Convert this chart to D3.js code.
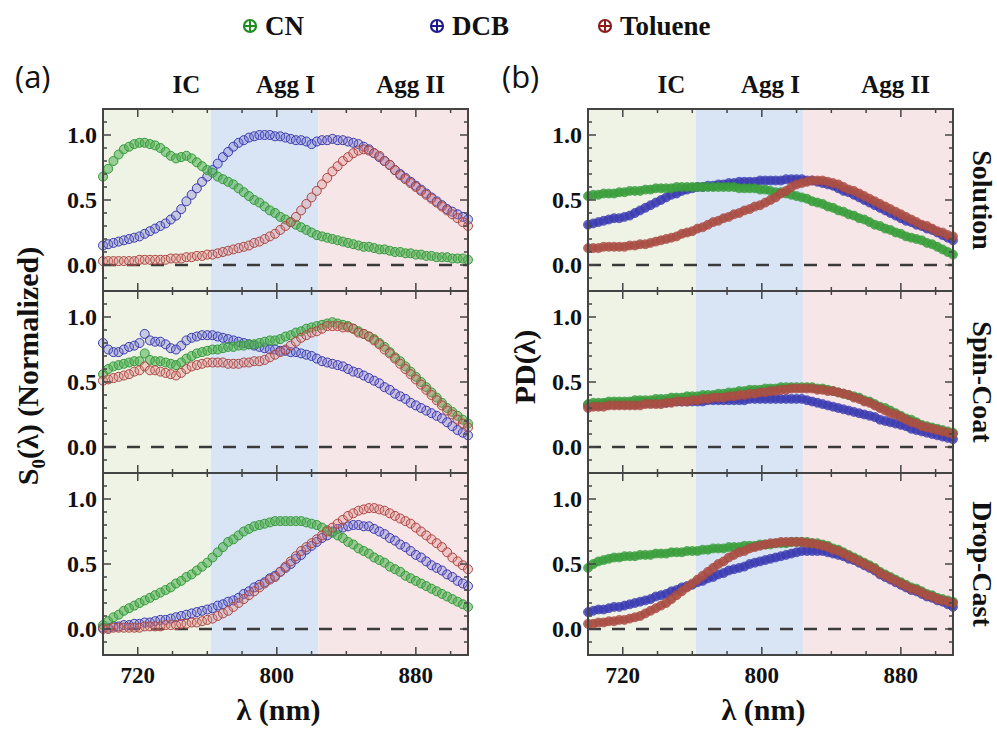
<!DOCTYPE html>
<html>
<head>
<meta charset="utf-8">
<script src="https://cdn.jsdelivr.net/npm/d3@7"></script>
<style>
  body { margin: 0; background: #fff; }
</style>
</head>
<body>
<div id="chart-area"></div>
<script>
// SVG size
var width = 997,
    height = 734;

var serif = "'Liberation Serif', 'Times New Roman', serif";

// wavelength grid (nm)
var wavelengths = d3.range(700, 911, 3);

var solvents = ["CN", "DCB", "Toluene"];
var rowNames = ["Solution", "Spin-Coat", "Drop-Cast"];
var regionNames = ["IC", "Agg I", "Agg II"];
var regionEdges = [700, 762, 824, 910];
var regionLabelAt = [748, 805, 877];
var xMajorTicks = [720, 800, 880];
var xMinorTicks = [740, 760, 780, 820, 840, 860, 900];
var yMajorTicks = [0, 0.5, 1.0];
var yMinorTicks = [-0.1, 0.1, 0.2, 0.3, 0.4, 0.6, 0.7, 0.8, 0.9, 1.1];

// (a) S0 normalized
var s0SolutionCN = [0.68,0.74,0.80,0.85,0.89,0.91,0.93,0.94,0.94,0.93,
  0.92,0.90,0.87,0.84,0.82,0.83,0.84,0.82,0.79,0.76,
  0.73,0.71,0.68,0.66,0.64,0.62,0.59,0.56,0.53,0.50,
  0.48,0.45,0.42,0.40,0.37,0.35,0.33,0.31,0.29,0.27,
  0.25,0.23,0.22,0.21,0.20,0.19,0.18,0.17,0.16,0.15,
  0.14,0.14,0.13,0.12,0.12,0.11,0.10,0.10,0.09,0.09,
  0.08,0.08,0.07,0.07,0.06,0.06,0.06,0.05,0.05,0.05,
  0.04];
var s0SolutionDCB = [0.15,0.16,0.17,0.18,0.19,0.20,0.21,0.22,0.24,0.26,
  0.28,0.30,0.32,0.35,0.38,0.43,0.49,0.54,0.59,0.64,
  0.68,0.73,0.78,0.83,0.87,0.91,0.94,0.96,0.98,0.99,
  1.00,1.00,1.00,0.99,0.99,0.98,0.97,0.96,0.96,0.95,
  0.93,0.95,0.96,0.96,0.97,0.96,0.96,0.95,0.94,0.93,
  0.91,0.89,0.86,0.83,0.80,0.77,0.73,0.70,0.67,0.64,
  0.61,0.58,0.55,0.52,0.49,0.46,0.43,0.41,0.39,0.37,
  0.35];
var s0SolutionTol = [0.03,0.03,0.03,0.03,0.03,0.03,0.03,0.04,0.04,0.04,
  0.04,0.04,0.04,0.05,0.05,0.05,0.06,0.06,0.07,0.07,
  0.08,0.08,0.09,0.10,0.11,0.12,0.13,0.14,0.15,0.17,
  0.18,0.20,0.22,0.24,0.27,0.30,0.33,0.37,0.42,0.47,
  0.52,0.57,0.62,0.67,0.72,0.76,0.80,0.83,0.86,0.88,
  0.89,0.88,0.86,0.84,0.80,0.77,0.73,0.69,0.66,0.63,
  0.60,0.57,0.54,0.51,0.48,0.45,0.42,0.39,0.36,0.33,
  0.30];
var s0SpinCN = [0.56,0.60,0.62,0.63,0.64,0.65,0.66,0.66,0.72,0.67,
  0.66,0.66,0.65,0.64,0.63,0.65,0.68,0.70,0.72,0.73,
  0.74,0.75,0.75,0.76,0.77,0.77,0.78,0.78,0.79,0.79,
  0.80,0.81,0.82,0.82,0.83,0.85,0.86,0.88,0.89,0.91,
  0.92,0.93,0.94,0.95,0.96,0.95,0.94,0.93,0.91,0.89,
  0.87,0.85,0.83,0.80,0.77,0.73,0.69,0.66,0.62,0.58,
  0.54,0.50,0.46,0.42,0.38,0.34,0.30,0.27,0.24,0.21,
  0.18];
var s0SpinDCB = [0.80,0.75,0.73,0.73,0.75,0.77,0.78,0.80,0.87,0.82,
  0.81,0.81,0.79,0.76,0.75,0.78,0.82,0.84,0.85,0.86,
  0.86,0.86,0.85,0.84,0.83,0.82,0.81,0.80,0.79,0.78,
  0.77,0.76,0.75,0.75,0.74,0.74,0.73,0.73,0.72,0.71,
  0.70,0.68,0.66,0.65,0.64,0.63,0.62,0.60,0.58,0.57,
  0.55,0.53,0.51,0.49,0.46,0.44,0.41,0.39,0.37,0.34,
  0.32,0.30,0.28,0.26,0.24,0.22,0.19,0.16,0.13,0.11,
  0.09];
var s0SpinTol = [0.51,0.52,0.53,0.54,0.55,0.56,0.58,0.59,0.62,0.59,
  0.59,0.58,0.57,0.56,0.55,0.57,0.60,0.62,0.63,0.64,
  0.65,0.65,0.65,0.65,0.64,0.64,0.64,0.65,0.65,0.66,
  0.66,0.67,0.69,0.71,0.73,0.75,0.78,0.81,0.84,0.86,
  0.88,0.89,0.91,0.93,0.93,0.93,0.92,0.92,0.91,0.88,
  0.87,0.85,0.82,0.79,0.75,0.72,0.68,0.64,0.60,0.56,
  0.52,0.48,0.44,0.40,0.36,0.32,0.28,0.25,0.21,0.18,
  0.15];
var s0DropCN = [0.03,0.06,0.09,0.11,0.14,0.16,0.18,0.20,0.22,0.24,
  0.26,0.28,0.30,0.32,0.35,0.37,0.40,0.42,0.45,0.48,
  0.51,0.55,0.59,0.63,0.67,0.69,0.72,0.75,0.77,0.79,
  0.80,0.81,0.82,0.83,0.83,0.83,0.83,0.83,0.83,0.82,
  0.81,0.80,0.78,0.76,0.74,0.72,0.70,0.67,0.65,0.62,
  0.60,0.58,0.55,0.53,0.51,0.48,0.46,0.44,0.41,0.39,
  0.37,0.35,0.33,0.31,0.29,0.27,0.25,0.23,0.21,0.19,
  0.17];
var s0DropDCB = [0.01,0.01,0.02,0.02,0.03,0.03,0.04,0.04,0.05,0.05,
  0.06,0.07,0.07,0.08,0.09,0.10,0.11,0.12,0.13,0.14,
  0.15,0.16,0.18,0.19,0.21,0.22,0.24,0.27,0.29,0.32,
  0.34,0.36,0.39,0.41,0.44,0.47,0.50,0.54,0.57,0.61,
  0.64,0.67,0.70,0.72,0.75,0.77,0.78,0.79,0.80,0.80,
  0.79,0.79,0.77,0.75,0.73,0.70,0.68,0.65,0.63,0.60,
  0.57,0.55,0.52,0.49,0.47,0.45,0.42,0.40,0.37,0.35,
  0.33];
var s0DropTol = [0.00,0.00,0.01,0.01,0.01,0.01,0.01,0.01,0.02,0.02,
  0.02,0.02,0.03,0.03,0.03,0.04,0.04,0.05,0.05,0.06,
  0.07,0.08,0.10,0.12,0.14,0.17,0.20,0.23,0.26,0.29,
  0.32,0.35,0.38,0.40,0.44,0.48,0.52,0.56,0.60,0.63,
  0.66,0.69,0.72,0.75,0.78,0.81,0.84,0.87,0.89,0.91,
  0.92,0.93,0.93,0.92,0.91,0.89,0.87,0.85,0.83,0.81,
  0.78,0.75,0.72,0.69,0.66,0.63,0.59,0.55,0.52,0.49,
  0.46];

// (b) PD
var pdSolutionCN = [0.53,0.54,0.54,0.55,0.55,0.55,0.56,0.56,0.57,0.57,
  0.57,0.58,0.58,0.59,0.59,0.59,0.59,0.60,0.60,0.60,
  0.60,0.60,0.60,0.60,0.60,0.60,0.60,0.60,0.60,0.59,
  0.59,0.59,0.59,0.58,0.58,0.57,0.56,0.56,0.55,0.54,
  0.53,0.52,0.51,0.49,0.48,0.47,0.45,0.44,0.42,0.41,
  0.39,0.38,0.36,0.35,0.33,0.31,0.30,0.28,0.27,0.25,
  0.24,0.22,0.21,0.20,0.19,0.17,0.16,0.14,0.12,0.10,
  0.08];
var pdSolutionDCB = [0.31,0.32,0.33,0.34,0.35,0.36,0.36,0.37,0.38,0.40,
  0.42,0.44,0.46,0.48,0.50,0.52,0.54,0.55,0.57,0.58,
  0.59,0.60,0.60,0.61,0.61,0.62,0.62,0.63,0.63,0.64,
  0.64,0.64,0.64,0.65,0.65,0.65,0.65,0.65,0.66,0.66,
  0.66,0.66,0.65,0.65,0.64,0.63,0.62,0.61,0.59,0.57,
  0.56,0.54,0.52,0.50,0.48,0.46,0.44,0.42,0.40,0.38,
  0.36,0.34,0.33,0.31,0.30,0.28,0.27,0.25,0.23,0.21,
  0.19];
var pdSolutionTol = [0.13,0.13,0.13,0.14,0.14,0.14,0.14,0.14,0.15,0.15,
  0.16,0.16,0.17,0.18,0.19,0.20,0.21,0.22,0.24,0.25,
  0.26,0.28,0.29,0.31,0.33,0.34,0.36,0.37,0.39,0.40,
  0.42,0.43,0.45,0.46,0.48,0.50,0.52,0.55,0.57,0.60,
  0.62,0.63,0.64,0.65,0.65,0.65,0.64,0.63,0.62,0.60,
  0.58,0.57,0.55,0.53,0.51,0.49,0.47,0.45,0.43,0.41,
  0.39,0.37,0.35,0.33,0.31,0.30,0.28,0.26,0.25,0.23,
  0.22];
var pdSpinCN = [0.33,0.34,0.34,0.34,0.35,0.35,0.35,0.35,0.35,0.36,
  0.36,0.36,0.36,0.37,0.37,0.37,0.38,0.38,0.38,0.39,
  0.39,0.39,0.40,0.40,0.40,0.41,0.41,0.42,0.42,0.43,
  0.43,0.44,0.44,0.44,0.45,0.45,0.45,0.46,0.46,0.46,
  0.46,0.46,0.46,0.46,0.45,0.45,0.44,0.43,0.42,0.41,
  0.40,0.39,0.38,0.36,0.35,0.33,0.31,0.30,0.28,0.26,
  0.24,0.22,0.21,0.19,0.17,0.16,0.15,0.14,0.13,0.12,
  0.11];
var pdSpinDCB = [0.32,0.32,0.32,0.33,0.33,0.33,0.33,0.33,0.33,0.33,
  0.34,0.34,0.34,0.34,0.34,0.34,0.35,0.35,0.35,0.35,
  0.35,0.35,0.35,0.36,0.36,0.36,0.36,0.36,0.36,0.36,
  0.36,0.37,0.37,0.37,0.37,0.37,0.37,0.37,0.37,0.37,
  0.37,0.37,0.36,0.35,0.34,0.33,0.32,0.31,0.30,0.29,
  0.28,0.27,0.26,0.25,0.24,0.23,0.21,0.20,0.19,0.18,
  0.17,0.16,0.14,0.13,0.12,0.11,0.10,0.09,0.08,0.07,
  0.06];
var pdSpinTol = [0.30,0.31,0.31,0.31,0.32,0.32,0.32,0.32,0.32,0.32,
  0.32,0.33,0.33,0.33,0.33,0.34,0.34,0.35,0.35,0.35,
  0.36,0.36,0.37,0.37,0.38,0.38,0.38,0.39,0.39,0.40,
  0.40,0.41,0.41,0.42,0.42,0.43,0.43,0.44,0.44,0.45,
  0.45,0.45,0.45,0.45,0.44,0.44,0.43,0.43,0.42,0.41,
  0.40,0.38,0.37,0.35,0.34,0.32,0.30,0.28,0.26,0.25,
  0.23,0.21,0.19,0.18,0.16,0.15,0.14,0.13,0.12,0.11,
  0.10];
var pdDropCN = [0.47,0.50,0.52,0.53,0.54,0.55,0.55,0.56,0.56,0.56,
  0.57,0.57,0.57,0.58,0.58,0.58,0.59,0.59,0.59,0.60,
  0.60,0.60,0.61,0.61,0.62,0.62,0.62,0.63,0.63,0.63,
  0.64,0.64,0.64,0.65,0.65,0.65,0.66,0.66,0.66,0.67,
  0.67,0.67,0.67,0.66,0.66,0.65,0.64,0.62,0.61,0.59,
  0.57,0.55,0.53,0.51,0.49,0.47,0.44,0.42,0.40,0.38,
  0.36,0.34,0.32,0.31,0.29,0.27,0.26,0.24,0.23,0.22,
  0.21];
var pdDropDCB = [0.13,0.14,0.15,0.15,0.16,0.17,0.17,0.18,0.19,0.20,
  0.21,0.22,0.23,0.25,0.26,0.27,0.29,0.30,0.32,0.33,
  0.34,0.36,0.37,0.39,0.40,0.42,0.43,0.45,0.46,0.47,
  0.48,0.50,0.51,0.52,0.53,0.54,0.55,0.56,0.57,0.58,
  0.59,0.60,0.60,0.60,0.60,0.60,0.59,0.58,0.57,0.56,
  0.54,0.53,0.51,0.49,0.47,0.45,0.42,0.40,0.38,0.36,
  0.34,0.32,0.30,0.29,0.27,0.25,0.24,0.22,0.21,0.19,
  0.17];
var pdDropTol = [0.04,0.04,0.05,0.05,0.06,0.06,0.07,0.07,0.08,0.09,
  0.10,0.12,0.14,0.16,0.18,0.20,0.23,0.26,0.29,0.32,
  0.35,0.38,0.41,0.44,0.47,0.50,0.52,0.55,0.57,0.59,
  0.60,0.62,0.63,0.64,0.65,0.66,0.66,0.67,0.67,0.67,
  0.67,0.67,0.66,0.66,0.65,0.64,0.63,0.61,0.60,0.58,
  0.56,0.54,0.52,0.50,0.48,0.46,0.43,0.41,0.39,0.37,
  0.35,0.33,0.31,0.30,0.28,0.26,0.25,0.23,0.22,0.21,
  0.20];

// panels[panel][row] = [CN, DCB, Toluene]
var panelData = [
  [[s0SolutionCN, s0SolutionDCB, s0SolutionTol],
   [s0SpinCN, s0SpinDCB, s0SpinTol],
   [s0DropCN, s0DropDCB, s0DropTol]],
  [[pdSolutionCN, pdSolutionDCB, pdSolutionTol],
   [pdSpinCN, pdSpinDCB, pdSpinTol],
   [pdDropCN, pdDropDCB, pdDropTol]]
];

var legendColors = ["#1e8c1e", "#1c1c8c", "#8c1c1c"];
var strokeColors = ["#34993a", "#3a3aae", "#ac4640"];
var fillColors = ["rgba(80,175,80,0.55)", "rgba(105,105,210,0.3)", "rgba(220,130,130,0.3)"];
var bandColors = ["rgba(60,160,60,0.75)", "rgba(60,60,180,0.7)", "rgba(170,80,70,0.75)"];
var regionColors = ["#eef3e6", "#d9e5f5", "#f7e6e8"];
var drawOrder = [1, 0, 2];

// layout
var panelLeft = [103, 588],
    plotW = 365,
    rowTop = 109,
    rowH = 182;

var svg = d3.select("#chart-area")
  .append("svg")
  .attr("width", width)
  .attr("height", height);

var x = d3.scaleLinear().domain([700, 910]).range([0, plotW]);
var y = d3.scaleLinear().domain([-0.2, 1.2]).range([rowH, 0]);

var band = d3.line()
  .x(function(d, i) { return x(wavelengths[i]); })
  .y(function(d) { return y(d); })
  .curve(d3.curveMonotoneX);

panelData.forEach(function(rows, p) {
  var panel = svg.append("g").attr("transform", "translate(" + panelLeft[p] + ",0)");

  rows.forEach(function(series, r) {
    var g = panel.append("g").attr("transform", "translate(0," + (rowTop + r * rowH) + ")");

    // shaded regions
    g.selectAll("rect.region")
      .data(regionColors)
      .enter()
      .append("rect")
      .attr("x", function(d, i) { return x(regionEdges[i]); })
      .attr("width", function(d, i) { return x(regionEdges[i + 1]) - x(regionEdges[i]); })
      .attr("y", 0)
      .attr("height", rowH)
      .attr("fill", function(d) { return d; });

    // zero line
    g.append("line")
      .attr("x1", 0).attr("x2", plotW)
      .attr("y1", y(0)).attr("y2", y(0))
      .attr("stroke", "#3a3a3a")
      .attr("stroke-width", 2.5)
      .attr("stroke-dasharray", "13,11");

    // markers (PD panel points are so dense they read as a band)
    drawOrder.forEach(function(s) {
      if (p === 1) {
        g.append("path")
          .datum(series[s])
          .attr("d", band)
          .attr("fill", "none")
          .attr("stroke", bandColors[s])
          .attr("stroke-width", 7)
          .attr("stroke-linecap", "round");
      }
      g.append("g")
        .selectAll("circle")
        .data(series[s])
        .enter()
        .append("circle")
        .attr("cx", function(d, i) { return x(wavelengths[i]); })
        .attr("cy", function(d) { return y(d); })
        .attr("r", 4.5)
        .attr("fill", p === 1 ? bandColors[s] : fillColors[s])
        .attr("stroke", strokeColors[s])
        .attr("stroke-opacity", p === 1 ? 0.7 : 1)
        .attr("stroke-width", 1);
    });

    // ticks
    var tickColor = "#444";
    var xt = xMajorTicks.map(function(t) { return {v: t, len: 8}; })
      .concat(xMinorTicks.map(function(t) { return {v: t, len: 4}; }));
    var yt = yMajorTicks.map(function(t) { return {v: t, len: 8}; })
      .concat(yMinorTicks.map(function(t) { return {v: t, len: 4}; }));

    xt.forEach(function(t) {
      g.append("line").attr("x1", x(t.v)).attr("x2", x(t.v)).attr("y1", rowH).attr("y2", rowH - t.len)
        .attr("stroke", tickColor).attr("stroke-width", 1.5);
      g.append("line").attr("x1", x(t.v)).attr("x2", x(t.v)).attr("y1", 0).attr("y2", t.len)
        .attr("stroke", tickColor).attr("stroke-width", 1.5);
    });
    yt.forEach(function(t) {
      g.append("line").attr("x1", 0).attr("x2", t.len).attr("y1", y(t.v)).attr("y2", y(t.v))
        .attr("stroke", tickColor).attr("stroke-width", 1.5);
      g.append("line").attr("x1", plotW).attr("x2", plotW - t.len).attr("y1", y(t.v)).attr("y2", y(t.v))
        .attr("stroke", tickColor).attr("stroke-width", 1.5);
    });

    // frame
    g.append("rect")
      .attr("width", plotW)
      .attr("height", rowH)
      .attr("fill", "none")
      .attr("stroke", tickColor)
      .attr("stroke-width", 2);

    // y tick labels
    g.selectAll("text.ytick")
      .data(yMajorTicks)
      .enter()
      .append("text")
      .attr("x", -6)
      .attr("y", function(d) { return y(d); })
      .attr("dy", "0.35em")
      .attr("text-anchor", "end")
      .style("font-size", "24px")
      .text(function(d) { return d3.format(".1f")(d); });

    // right-hand row titles
    if (p === 1) {
      g.append("text")
        .attr("transform", "translate(" + (plotW + 20) + "," + (rowH / 2) + ") rotate(90)")
        .attr("text-anchor", "middle")
        .style("font-size", "28px")
        .text(rowNames[r]);
    }
  });

  // x tick labels
  panel.selectAll("text.xtick")
    .data(xMajorTicks)
    .enter()
    .append("text")
    .attr("x", function(d) { return x(d); })
    .attr("y", rowTop + 3 * rowH + 28)
    .attr("text-anchor", "middle")
    .style("font-size", "23px")
    .text(function(d) { return d; });

  // x title
  panel.append("text")
    .attr("x", plotW / 2 - 7)
    .attr("y", 720)
    .attr("text-anchor", "middle")
    .style("font-size", "30px")
    .text("λ (nm)");

  // region labels
  panel.selectAll("text.region")
    .data(regionNames)
    .enter()
    .append("text")
    .attr("x", function(d, i) { return x(regionLabelAt[i]); })
    .attr("y", 93)
    .attr("text-anchor", "middle")
    .style("font-size", "25px")
    .text(function(d) { return d; });
});

// y titles
var yTitleA = svg.append("text")
  .attr("transform", "translate(38,366) rotate(-90)")
  .attr("text-anchor", "middle")
  .style("font-size", "30px");
yTitleA.append("tspan").text("S");
yTitleA.append("tspan").attr("dy", 7).style("font-size", "19px").text("0");
yTitleA.append("tspan").attr("dy", -7).text("(λ) (Normalized)");

svg.append("text")
  .attr("transform", "translate(535,367) rotate(-90)")
  .attr("text-anchor", "middle")
  .style("font-size", "30px")
  .text("PD(λ)");

// legend
var legendX = [250, 437, 605];
var legend = svg.selectAll("g.legend")
  .data(solvents)
  .enter()
  .append("g")
  .attr("transform", function(d, i) { return "translate(" + legendX[i] + ",26)"; });

legend.append("circle")
  .attr("r", 6)
  .attr("fill", "none")
  .attr("stroke", function(d, i) { return legendColors[i]; })
  .attr("stroke-width", 2.2);
legend.append("path")
  .attr("d", "M-6,0H6M0,-6V6")
  .attr("stroke", function(d, i) { return legendColors[i]; })
  .attr("stroke-width", 2);
legend.append("text")
  .attr("x", 15)
  .attr("y", 9)
  .style("font-size", "27px")
  .text(function(d) { return d; });

// all labels so far are bold serif
svg.selectAll("text")
  .style("font-family", serif)
  .style("font-weight", "bold")
  .style("fill", "#111");

// panel letters use a plain sans face
svg.selectAll("text.letter")
  .data(["(a)", "(b)"])
  .enter()
  .append("text")
  .attr("x", function(d, i) { return panelLeft[i] - (i === 0 ? 88 : 86); })
  .attr("y", 88)
  .style("font-family", "'Open Sans', 'Noto Sans', sans-serif")
  .style("font-size", "31px")
  .style("fill", "#111")
  .text(function(d) { return d; });
</script>
</body>
</html>
